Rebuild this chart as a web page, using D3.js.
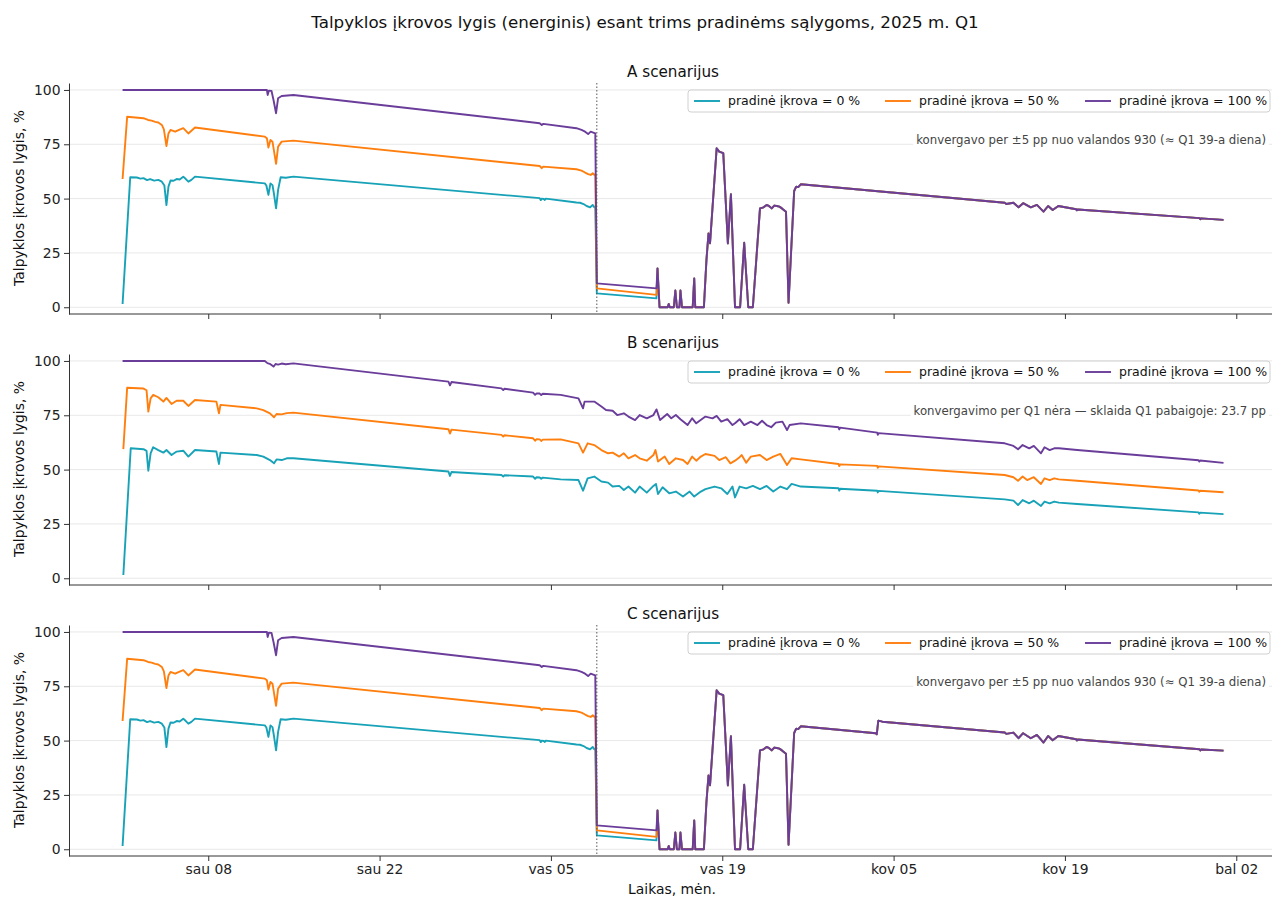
<!DOCTYPE html>
<html>
<head>
<meta charset="utf-8">
<script src="https://cdn.jsdelivr.net/npm/d3@7"></script>
<style>
  body { margin: 0; background: #fff; }
  text { font-family: "DejaVu Sans", sans-serif; }
</style>
</head>
<body>
<div id="chart"></div>
<script>
// ---- data (hour of Q1 2025, charge level %) ----
var seriesLabels = ["pradinė įkrova = 0 %", "pradinė įkrova = 50 %", "pradinė įkrova = 100 %"];
var seriesColors = ["#17a2b8", "#ff7f0e", "#6a3d9a"];
var panelTitles = ["A scenarijus", "B scenarijus", "C scenarijus"];
var panelNotes = [
    "konvergavo per ±5 pp nuo valandos 930 (≈ Q1 39-a diena)",
    "konvergavimo per Q1 nėra — sklaida Q1 pabaigoje: 23.7 pp",
    "konvergavo per ±5 pp nuo valandos 930 (≈ Q1 39-a diena)"
];
var convergeHour = [930, null, 930];
var yTicks = [0, 25, 50, 75, 100];
var xTickDays = ["2025-01-08", "2025-01-22", "2025-02-05", "2025-02-19", "2025-03-05", "2025-03-19", "2025-04-02"];
var xTickLabels = ["sau 08", "sau 22", "vas 05", "vas 19", "kov 05", "kov 19", "bal 02"];

// scenario A and C share the first part
var headA0 = [[0,1.5],[15,59.8],[28,59.7],[35,59.2],[41,59.4],[48,58.5],[54,59],[62,58.3],[70,58.6],[77,57.8],[82,56],[86,47],[90,55.5],[94,58.3],[100,58.2],[106,59],[112,58.8],[119,60.1],[124,59],[129,57.8],[135,58.6],[142,60.1],[279,57],[282,56],[286,51.7],[290,57],[294,56.2],[297,52],[301,45.5],[305,54],[310,59.8],[320,59.6],[335,60.1],[818,50.2],[820,49.3],[822,50],[826,49.8],[828,49.4],[830,50],[890,48.2],[897,48.1],[904,47.5],[910,46.6],[917,46],[922,47.1],[925,46],[927,46.3],[930,6.4],[1047,4.1]];
var headA50 = [[0,59],[9,87.7],[41,87],[50,86.2],[57,85.9],[64,85.3],[70,85],[77,83.9],[81,81.9],[86,74.2],[90,80],[94,81.6],[103,80.8],[113,81.9],[119,82.4],[129,80],[142,82.7],[279,78.5],[283,77.8],[286,73.5],[290,77],[294,76.2],[301,66],[305,73.9],[312,76.2],[335,76.7],[818,65],[822,64],[825,64.7],[890,63.5],[900,62.9],[907,62],[913,61.3],[918,60.9],[922,61.7],[925,60.9],[927,61.2],[930,8.7],[1047,5.7]];
var headA100 = [[0,100],[283,100],[284.5,97.7],[287,99.7],[292,99.6],[296,95.4],[301,89.3],[305,96.2],[312,97.2],[335,97.7],[818,84.7],[822,83.9],[825,84.4],[890,82.4],[900,81.6],[907,80.8],[913,79.7],[918,80.8],[923,80.4],[927,80],[930,11],[1047,8.7]];
var tailA = [[1049,17.9],[1053,0],[1069,0],[1071,1.5],[1073,0],[1081,0],[1084,7.7],[1087,0],[1092,0],[1094,7.7],[1097,0],[1118,0],[1121,13.3],[1123,0],[1140,0],[1145,21.8],[1149,34],[1152,29.4],[1165,73.2],[1170,71.6],[1178,70.9],[1187,29.4],[1193,52],[1201,0],[1211,0],[1219,29.7],[1227,0],[1236,0],[1250,45.5],[1257,46],[1263,47.1],[1268,46.5],[1273,45.5],[1278,46.8],[1283,46.6],[1288,46.3],[1293,45.5],[1301,44],[1306,2.1],[1317,53.5],[1321,55.5],[1325,55.3],[1330,56.6],[1730,48.1],[1733,47.5],[1747,48.1],[1757,46],[1766,47.9],[1781,46],[1793,47.1],[1806,44],[1815,46.6],[1824,44.8],[1835,46.6],[1870,45.1],[1871.5,44.6],[1873,45],[2112,41],[2113.5,40.5],[2115,40.9],[2159,40.2]];
// scenario C departs from A after hour 1330
var tailCEnd = [[1477,53.4],[1479,52.9],[1482,59.2],[1490,58.7],[1730,53.7],[1733,53.1],[1747,53.7],[1757,51.1],[1766,53.4],[1781,51.1],[1793,52.6],[1806,49.1],[1815,52.1],[1824,50.2],[1835,52.1],[1870,50.6],[1871.5,50.1],[1873,50.5],[2112,46],[2113.5,45.5],[2115,45.9],[2159,45.4]];

var b0 = [[1.5,1.5],[16,59.8],[41,59.4],[47,58.6],[50.5,49.5],[55,57.5],[60,60.3],[70,59],[80,57.8],[86,59],[96,56.7],[106,58.3],[119,58.7],[129,56],[142,59],[184,58.3],[189,52.6],[192,57.8],[263,56.7],[276,56],[289,54.4],[297,52.9],[302,54.7],[312,54.4],[322,55.2],[335,55.2],[639,49.1],[642,47.1],[645,48.9],[743,47.5],[746.5,46.8],[749,47.4],[805,46.8],[809,45.8],[812,46.5],[818,46.4],[821,45.8],[824,46.3],[859,45.5],[894,45.2],[903,40.3],[912,46],[925,46.8],[939,44.5],[952,44],[961,42.2],[974,42.5],[983,40.6],[992,42.2],[1005,39.4],[1014,42.2],[1028,39.4],[1041,42.5],[1046,43.4],[1050,38.8],[1059,41.9],[1072,39.1],[1085,39.9],[1099,37.6],[1112,39.9],[1121,37.6],[1134,39.9],[1143,41],[1161,42.2],[1174,41.4],[1186,38.8],[1196,42.2],[1201,37.2],[1210,42.2],[1223,41.4],[1236,42.5],[1250,41],[1263,42.5],[1276,39.9],[1290,42.2],[1303,41],[1312,43.4],[1330,42.2],[1404,41.4],[1405.5,40.3],[1407,41.2],[1480,40.3],[1481,39.5],[1482.5,40.2],[1730,36.3],[1747,35.7],[1756,33.7],[1765,36],[1778,34.5],[1787,35.7],[1801,33.3],[1808,35.3],[1818,34.5],[1827,35.3],[1836,34.8],[1872,34.2],[2110,30.3],[2111.5,29.7],[2113,30.2],[2159,29.5]];
var b50 = [[1.5,59.4],[9,87.7],[41,87.3],[47,86.5],[50.5,76.7],[55,82.8],[60,84.4],[70,83.3],[80,81.3],[86,83],[96,80.2],[106,81.7],[119,81.7],[129,79.3],[142,82],[184,81.3],[189,75.9],[192,79.8],[263,78.2],[276,77.4],[289,75.9],[297,74.1],[302,75.6],[312,75.4],[322,76],[335,76.2],[639,68.6],[642,66.6],[645,68.4],[743,66],[746.5,65.2],[749,65.8],[805,64.4],[809,63.3],[812,64],[818,63.9],[821,63.2],[824,63.8],[859,63.9],[894,62.1],[903,57.8],[912,62.1],[925,61.3],[939,59],[952,57.5],[961,57.8],[974,56],[983,57.5],[992,55.2],[1005,56.7],[1014,55.2],[1028,54.1],[1041,56.7],[1045,59],[1050,53.7],[1063,56],[1072,52.6],[1085,55.2],[1099,54.4],[1108,52.6],[1117,56],[1125,54.1],[1134,56],[1143,57.2],[1161,56.3],[1170,54.4],[1183,55.7],[1192,52.9],[1201,54.1],[1210,55.7],[1214,56.7],[1223,53.2],[1232,56],[1250,56.7],[1263,54.4],[1276,56],[1290,57.2],[1303,52.1],[1312,55.2],[1330,54.7],[1404,52.6],[1405.5,51.6],[1407,52.4],[1480,51.7],[1481,50.8],[1482.5,51.5],[1730,47.5],[1747,46.5],[1756,44.9],[1765,46.8],[1774,45.2],[1787,46.5],[1801,43.4],[1808,46],[1818,45.2],[1827,46],[1836,45.5],[1872,44.9],[2110,40.4],[2111.5,39.8],[2113,40.3],[2159,39.6]];
var b100 = [[0,100],[279,100],[284,99],[290,98.5],[296,97.4],[300,98.6],[305,98.3],[312,98.8],[320,98.5],[335,98.9],[639,90.5],[642,88.8],[645,90.3],[743,87.4],[746.5,86.6],[749,87.2],[805,85.4],[809,84.4],[812,85.1],[818,85],[821,84.3],[824,84.9],[859,84.4],[894,82.8],[903,78.2],[906,81.3],[912,81.3],[925,81.3],[939,79],[948,77.4],[961,77.1],[970,75.1],[983,75.9],[992,74.4],[1005,72.8],[1014,75.1],[1028,73.6],[1041,75.1],[1047,77.7],[1054,72.8],[1068,75.6],[1076,73.6],[1085,75.1],[1094,73.2],[1108,70.5],[1117,73.6],[1125,71.3],[1143,74.4],[1157,73.6],[1165,74.7],[1174,72.1],[1186,73.2],[1196,70.5],[1201,71.3],[1210,73.2],[1219,70.5],[1232,72.1],[1245,70.5],[1254,72.5],[1263,70.5],[1272,69.5],[1281,71.6],[1294,72.1],[1303,68.2],[1308,70.5],[1330,71.3],[1404,69.5],[1405.5,68.5],[1407,69.3],[1480,67],[1481,66],[1482.5,66.8],[1730,62.1],[1747,60.9],[1756,59.4],[1765,61.3],[1778,59.8],[1787,60.9],[1801,57.5],[1808,60.3],[1818,59],[1827,59.8],[1836,59.8],[1872,59],[2110,54.3],[2111.5,53.7],[2113,54.2],[2159,53.1]];

var tailC = tailA.filter(d => d[0] <= 1330).concat(tailCEnd);
var scenarios = [
    [headA0.concat(tailA), headA50.concat(tailA), headA100.concat(tailA)],
    [b0, b50, b100],
    [headA0.concat(tailC), headA50.concat(tailC), headA100.concat(tailC)]
];

// ---- layout ----
var W = 1272, H = 897;
var plot = { left: 67.5, right: 1278.6, height: 231 };
var panelTops = [83, 354, 625];

var t0 = Date.UTC(2025, 0, 1);
var hourToDate = h => new Date(t0 + h * 3600e3);

var svg = d3.select("#chart").append("svg")
    .attr("width", W)
    .attr("height", H)
    .style("background", "#fff");

var x = d3.scaleUtc()
    .domain([hourToDate(-108), hourToDate(2267)])
    .range([plot.left, plot.right]);

var y = d3.scaleLinear()
    .domain([-3.1, 103.2])
    .range([plot.height, 0]);

var line = d3.line()
    .x(d => x(hourToDate(d[0])))
    .y(d => y(d[1]));

var tickDates = xTickDays.map(s => new Date(s + "T00:00:00Z"));

svg.append("text")
    .text("Talpyklos įkrovos lygis (energinis) esant trims pradinėms sąlygoms, 2025 m. Q1")
    .attr("x", 645)
    .attr("y", 28)
    .attr("text-anchor", "middle")
    .attr("font-size", "16.7px")
    .attr("fill", "#111");

scenarios.forEach((series, p) => {
    var g = svg.append("g").attr("transform", "translate(0," + panelTops[p] + ")");

    // grid
    g.append("g").selectAll("line")
        .data(yTicks)
        .enter().append("line")
        .attr("x1", plot.left).attr("x2", plot.right)
        .attr("y1", d => y(d)).attr("y2", d => y(d))
        .attr("stroke", "#e8e8e8")
        .attr("stroke-width", 1);

    // lines
    g.append("g").selectAll("path")
        .data(series)
        .enter().append("path")
        .attr("d", line)
        .attr("fill", "none")
        .attr("stroke", (d, i) => seriesColors[i])
        .attr("stroke-width", 1.9)
        .attr("stroke-linejoin", "round");

    if (convergeHour[p] !== null) {
        var cx = x(hourToDate(convergeHour[p]));
        g.append("line")
            .attr("x1", cx).attr("x2", cx)
            .attr("y1", 0).attr("y2", plot.height)
            .attr("stroke", "#555")
            .attr("stroke-width", 1)
            .attr("stroke-dasharray", "1.5,2");
    }

    // axes
    var yAxis = d3.axisLeft(y).tickValues(yTicks).tickSize(5).tickSizeOuter(0).tickPadding(3.5);
    var yg = g.append("g").attr("transform", "translate(" + 69 + ",0)").call(yAxis);
    yg.selectAll("text").attr("font-size", "13.9px").attr("fill", "#222").style("font-family", "DejaVu Sans");
    yg.selectAll("line, path").attr("stroke", "#333");

    var xAxis = d3.axisBottom(x).tickValues(tickDates).tickSize(5).tickSizeOuter(0).tickPadding(3.5)
        .tickFormat((d, i) => p === 2 ? xTickLabels[i] : "");
    var xg = g.append("g").attr("transform", "translate(0," + plot.height + ")").call(xAxis);
    xg.select("path.domain").attr("d", "M69,0H" + plot.right);
    xg.selectAll("text").attr("font-size", "13.9px").attr("fill", "#222").style("font-family", "DejaVu Sans");
    xg.selectAll("line, path").attr("stroke", "#333");

    // titles
    g.append("text")
        .text(panelTitles[p])
        .attr("x", 673)
        .attr("y", -6.5)
        .attr("text-anchor", "middle")
        .attr("font-size", "15.2px")
        .attr("fill", "#111");

    g.append("text")
        .text("Talpyklos įkrovos lygis, %")
        .attr("transform", "translate(19," + (plot.height / 2 - 0.5) + ") rotate(-90)")
        .attr("dy", "0.35em")
        .attr("text-anchor", "middle")
        .attr("font-size", "13.9px")
        .attr("fill", "#111");

    // note with white box
    var note = g.append("g");
    var noteText = note.append("text")
        .text(panelNotes[p])
        .attr("x", 1266)
        .attr("y", 57)
        .attr("dy", "0.35em")
        .attr("text-anchor", "end")
        .attr("font-size", "11.75px")
        .attr("fill", "#444");
    var bb = noteText.node().getBBox();
    note.insert("rect", "text")
        .attr("x", bb.x - 3).attr("y", bb.y - 1)
        .attr("width", bb.width + 6).attr("height", bb.height + 2)
        .attr("fill", "#fff");

    // legend
    var legend = g.append("g").attr("transform", "translate(688,7)");
    legend.append("rect")
        .attr("width", 582).attr("height", 22)
        .attr("rx", 3)
        .attr("fill", "#fff").attr("fill-opacity", 0.8)
        .attr("stroke", "#d0d0d0");
    var offsets = [6, 197, 397];
    var items = legend.selectAll("g.item")
        .data(seriesLabels)
        .enter().append("g")
        .attr("class", "item")
        .attr("transform", (d, i) => "translate(" + offsets[i] + ",11)");
    items.append("line")
        .attr("x1", 0).attr("x2", 26)
        .attr("stroke", (d, i) => seriesColors[i])
        .attr("stroke-width", 1.9);
    items.append("text")
        .text(d => d)
        .attr("x", 34)
        .attr("dy", "0.35em")
        .attr("font-size", "12.5px")
        .attr("fill", "#111");
});

svg.append("text")
    .text("Laikas, mėn.")
    .attr("x", 672)
    .attr("y", 894)
    .attr("text-anchor", "middle")
    .attr("font-size", "13.9px")
    .attr("fill", "#111");
</script>
</body>
</html>
